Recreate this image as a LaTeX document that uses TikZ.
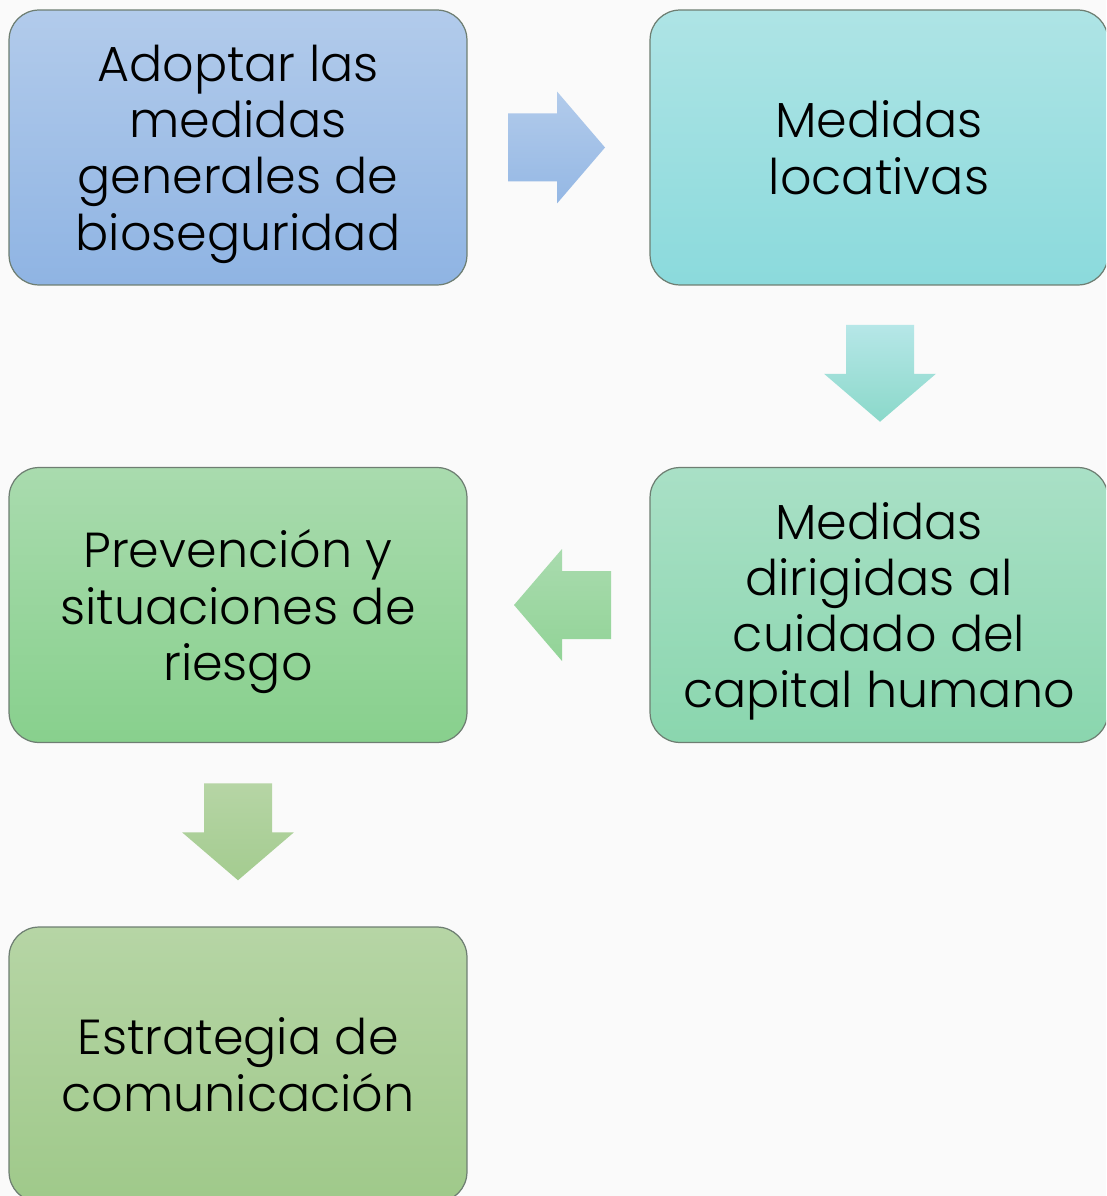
\documentclass[tikz,border=0pt]{standalone}
\usepackage{fontspec}
\setmainfont{Poppins}[UprightFont=* Light]
\usetikzlibrary{calc}

\definecolor{bgcol}{HTML}{FAFAFA}
\definecolor{boxline}{HTML}{6E7E72}
\definecolor{blueA}{HTML}{B2CBEB}
\definecolor{blueB}{HTML}{8FB4E3}
\definecolor{tealA}{HTML}{AEE4E5}
\definecolor{tealB}{HTML}{8BDADC}
\definecolor{greenA}{HTML}{A9DBAE}
\definecolor{greenB}{HTML}{88D08D}
\definecolor{mintA}{HTML}{A9E0C6}
\definecolor{mintB}{HTML}{8AD6AE}
\definecolor{oliveA}{HTML}{B6D5A5}
\definecolor{oliveB}{HTML}{9FC98A}

\tikzset{
  box/.style={draw=boxline, line width=0.7pt, rounded corners=0.6cm,
    minimum width=9.16cm, minimum height=5.5cm, align=center, text depth=0pt,
    font=\fontsize{28}{32}\selectfont},
  bluebox/.style={box, top color=blueA, bottom color=blueB},
  tealbox/.style={box, top color=tealA, bottom color=tealB},
  greenbox/.style={box, top color=greenA, bottom color=greenB},
  mintbox/.style={box, top color=mintA, bottom color=mintB},
  olivebox/.style={box, top color=oliveA, bottom color=oliveB}
}

\begin{document}
\begin{tikzpicture}[x=0.02cm, y=-0.02cm]
\fill[bgcol] (0,0) rectangle (1106,1196);
\useasboundingbox (0,0) rectangle (1106,1196);
\clip (0,0) rectangle (1106,1196);

\node[bluebox] (adoptar) at (238, 147.5) {Adoptar las\\medidas\\generales de\\bioseguridad};
\node[tealbox] (locativas) at (879, 147.5) {Medidas\\locativas};
\node[mintbox] (capital) at (879, 605) {Medidas\\dirigidas al\\cuidado del\\capital humano};
\node[greenbox] (prevencion) at (238, 605) {Prevención y\\situaciones de\\riesgo};
\node[olivebox] (estrategia) at (238, 1064.5) {Estrategia de\\comunicación};

% block arrows between the boxes
\coordinate (m1) at ($(adoptar.east)!0.5!(locativas.west)+(-2,0)$);
\coordinate (m2) at ($(locativas.south)!0.5!(capital.north)+(1,-3)$);
\coordinate (m3) at ($(capital.west)!0.5!(prevencion.east)+(3.5,0)$);
\coordinate (m4) at ($(prevencion.south)!0.5!(estrategia.north)+(0,-3)$);

\shade[top color=blueA, bottom color=blueB!85!blueA] (m1) ++(-48.5,-34) -- ++(49,0) -- ++(0,-22)
  -- ++(48,56) -- ++(-48,56) -- ++(0,-22) -- ++(-49,0) -- cycle;
\shade[top color=tealA!90!white, bottom color=tealB!60!mintB] (m2) ++(-34,-48.5) -- ++(68,0) -- ++(0,49)
  -- ++(22,0) -- ++(-56,48) -- ++(-56,-48) -- ++(22,0) -- cycle;
\shade[top color=greenA, bottom color=greenB!70!greenA] (m3) ++(49,-34) -- ++(-49,0) -- ++(0,-22)
  -- ++(-48,56) -- ++(48,56) -- ++(0,-22) -- ++(49,0) -- cycle;
\shade[top color=oliveA, bottom color=oliveB!80!oliveA] (m4) ++(-34,-48.5) -- ++(68,0) -- ++(0,49)
  -- ++(22,0) -- ++(-56,48) -- ++(-56,-48) -- ++(22,0) -- cycle;
\end{tikzpicture}
\end{document}
